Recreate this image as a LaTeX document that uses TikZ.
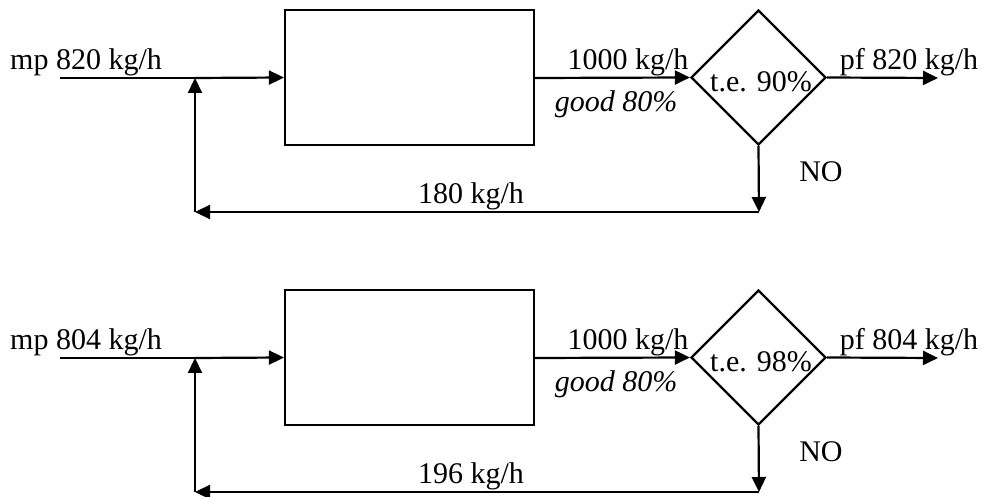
\documentclass[tikz,border=0pt]{standalone}
\usepackage{fontspec}
\setmainfont{Liberation Serif}
\usetikzlibrary{arrows.meta,shapes.geometric}
\tikzset{
  px/.style={x=0.5pt,y=-0.5pt},
  ln/.style={line width=1.1pt},
  arr/.style={ln,-{Triangle[length=7.5pt,width=7pt]}},
  lbl/.style={font=\fontsize{15}{18}\selectfont,inner sep=0pt,anchor=base},
  unitbox/.style={draw,ln,rectangle,minimum width=124.5pt,minimum height=67.5pt,inner sep=0pt},
  test/.style={draw,ln,diamond,aspect=1,minimum width=67.5pt,minimum height=67.5pt,inner sep=0pt},
}
\begin{document}
\begin{tikzpicture}[px]
\useasboundingbox (0,0) rectangle (982,497);
% ---------- top diagram ----------
\coordinate (inA) at (60,78);
\coordinate (jA) at (195,78);
\coordinate (cA) at (195,212);
\coordinate (dA) at (759,212);
\coordinate (outA) at (938,78);
\node[unitbox] (boxA) at (409.5,77.5) {};
\node[test] (diaA) at (758.5,77.5) {};
\draw[ln] (inA) -- (jA);
\draw[arr] (jA) -- (boxA.west);
\draw[arr] (boxA.east |- inA) -- (diaA.west);
\draw[arr] (diaA.east) -- (outA);
\draw[arr] (diaA.south) -- (dA);
\draw[arr] (dA) -- (cA);
\draw[arr] (cA) -- (jA);
\node[lbl] (teA) at (761,92) {t.e. 90\%};
\node[lbl] (mpA) at (86,70) {mp 820 kg/h};
\node[lbl] (flA) at (628,70) {1000 kg/h};
\node[lbl] (gdA) at (616,112) {\itshape good 80\%};
\node[lbl] (pfA) at (909,70) {pf 820 kg/h};
\node[lbl] (noA) at (821,182) {NO};
\node[lbl] (rcA) at (471,204) {180 kg/h};
% ---------- bottom diagram ----------
\coordinate (inB) at (60,358);
\coordinate (jB) at (195,358);
\coordinate (cB) at (195,492);
\coordinate (dB) at (759,492);
\coordinate (outB) at (938,358);
\node[unitbox] (boxB) at (409.5,357.5) {};
\node[test] (diaB) at (758.5,357.5) {};
\draw[ln] (inB) -- (jB);
\draw[arr] (jB) -- (boxB.west);
\draw[arr] (boxB.east |- inB) -- (diaB.west);
\draw[arr] (diaB.east) -- (outB);
\draw[arr] (diaB.south) -- (dB);
\draw[arr] (dB) -- (cB);
\draw[arr] (cB) -- (jB);
\node[lbl] (teB) at (761,372) {t.e. 98\%};
\node[lbl] (mpB) at (86,350) {mp 804 kg/h};
\node[lbl] (flB) at (628,350) {1000 kg/h};
\node[lbl] (gdB) at (616,392) {\itshape good 80\%};
\node[lbl] (pfB) at (909,350) {pf 804 kg/h};
\node[lbl] (noB) at (821,462) {NO};
\node[lbl] (rcB) at (471,484) {196 kg/h};
\end{tikzpicture}
\end{document}
